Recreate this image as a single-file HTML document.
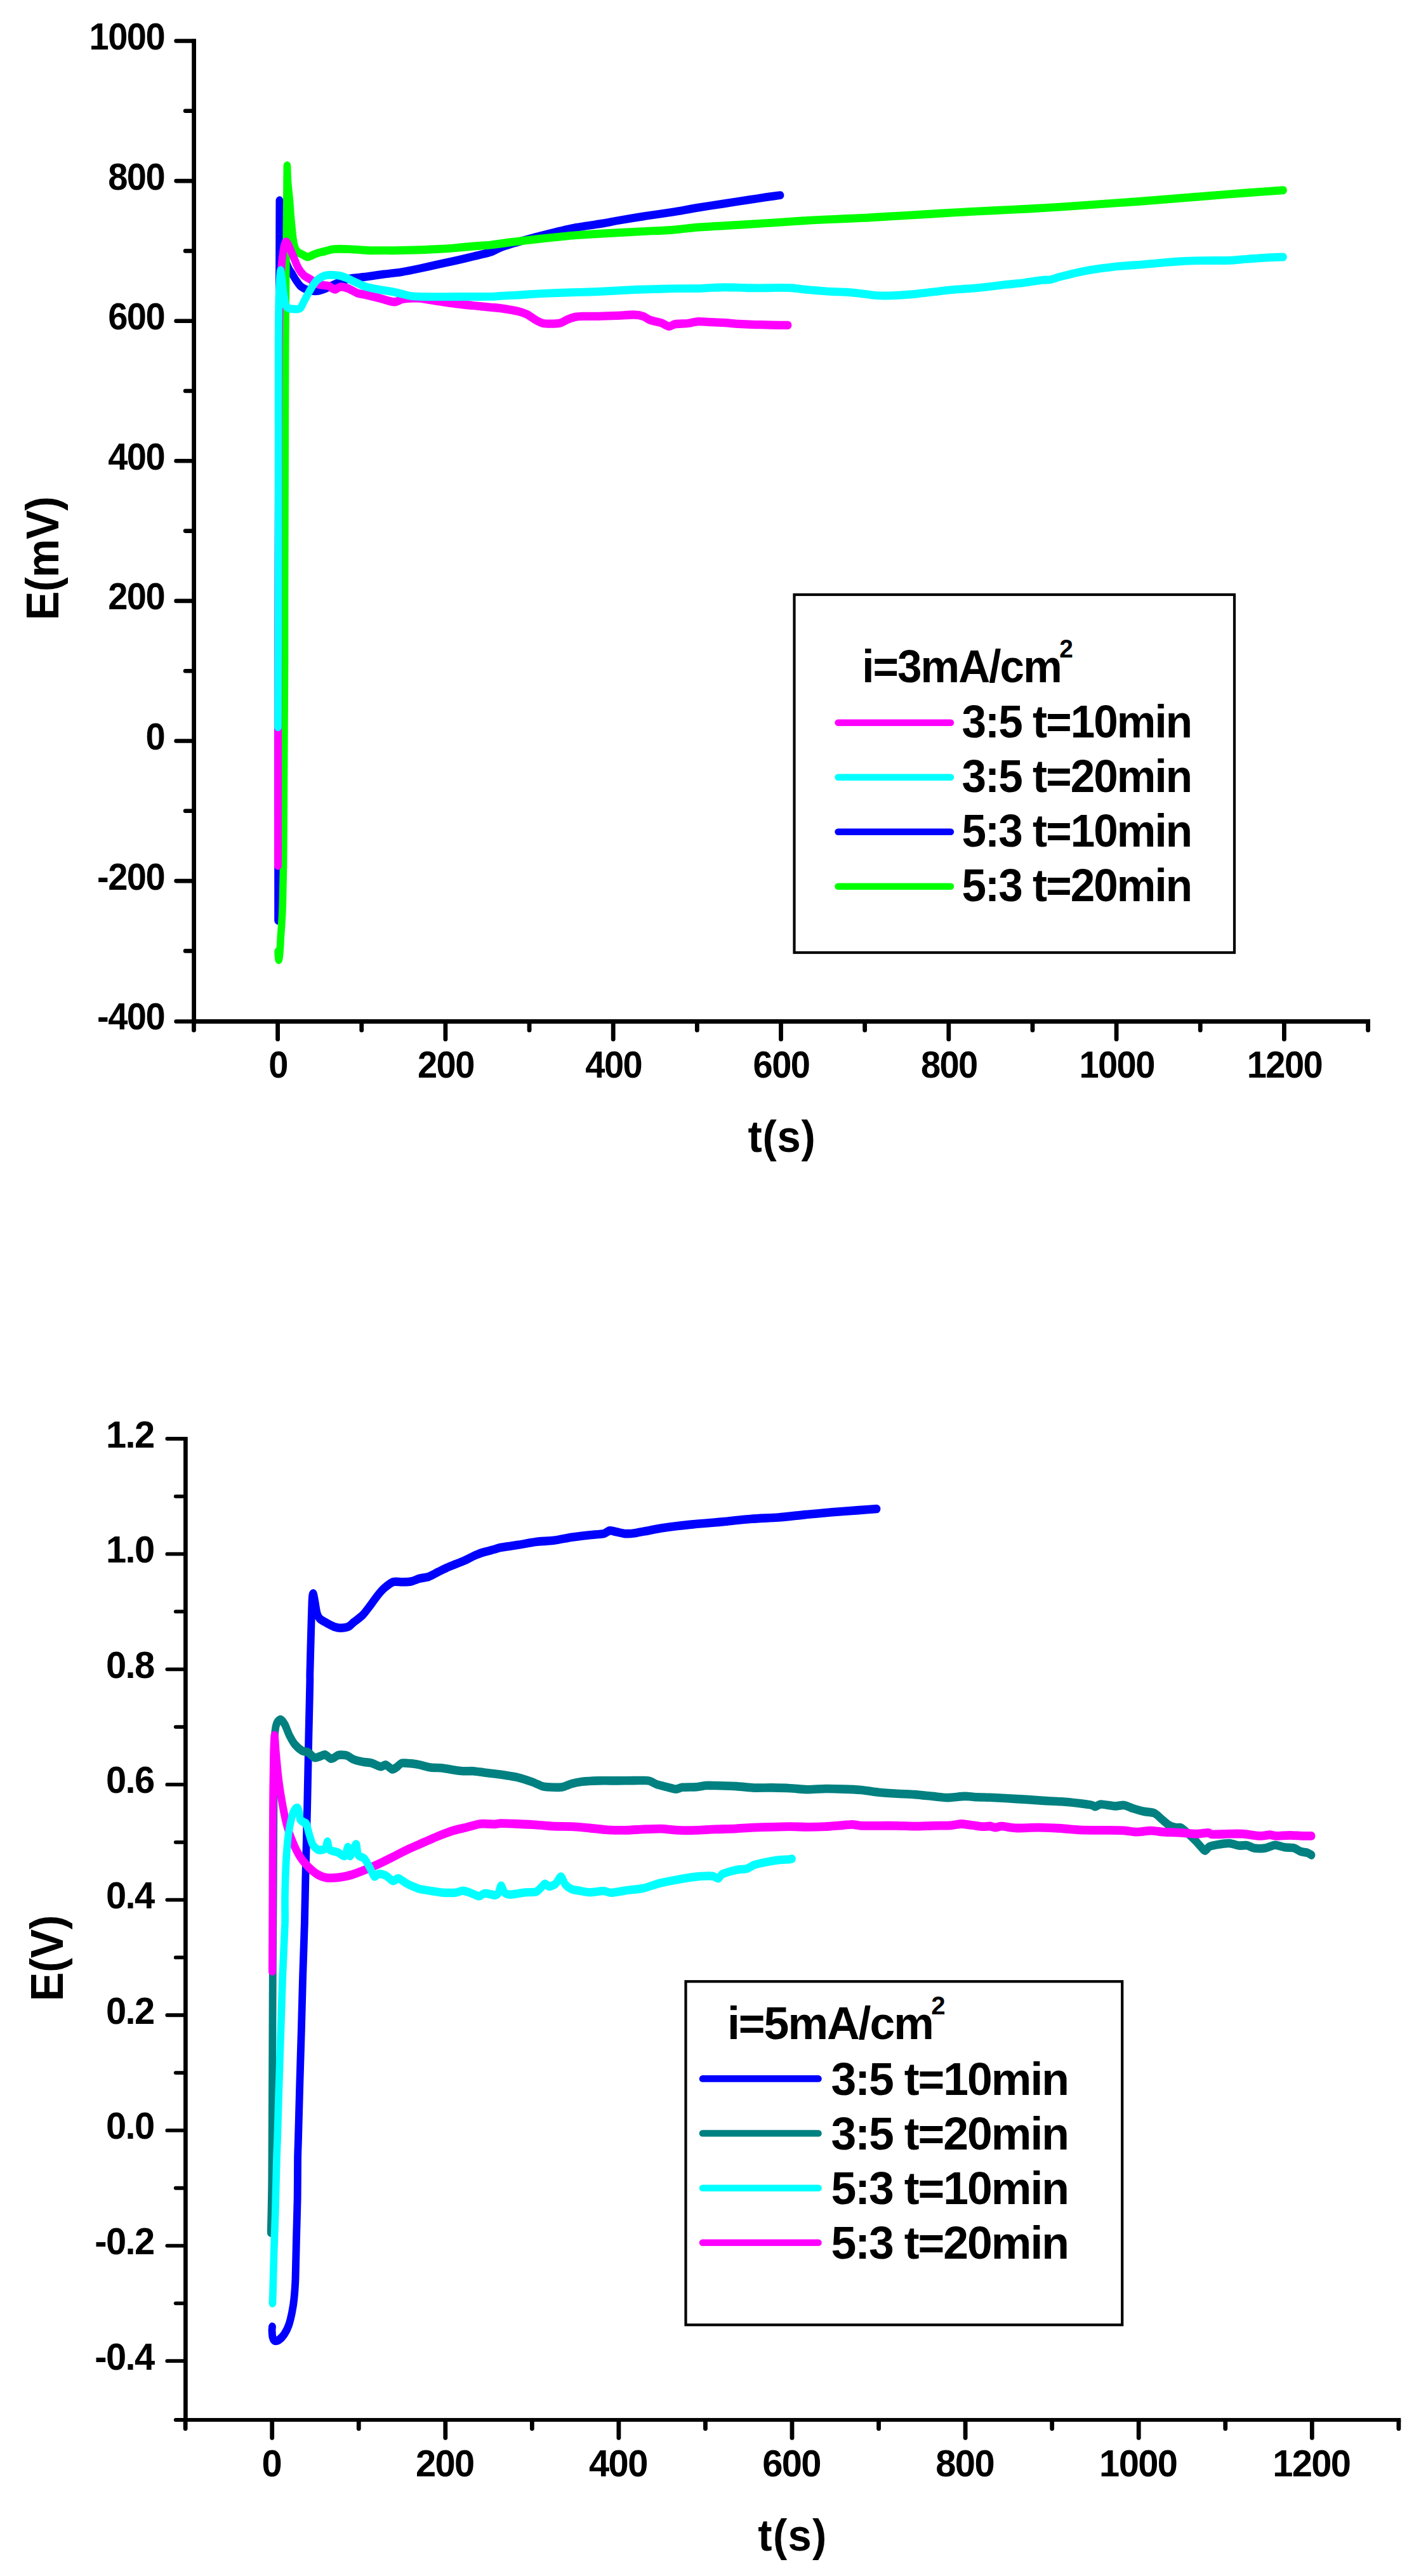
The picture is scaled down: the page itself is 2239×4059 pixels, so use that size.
<!DOCTYPE html>
<html lang="en">
<head>
<meta charset="utf-8">
<title>Chronopotentiometric curves</title>
<style>
html,body{margin:0;padding:0;background:#fff;}
body{width:2239px;height:4059px;}
svg{display:block;}
text{font-family:"Liberation Sans",Arial,sans-serif;font-weight:bold;fill:#000;}
.sq{letter-spacing:-0.028em;}
.sq2{letter-spacing:-2.5px;}
.sq3{letter-spacing:-0.028em;}
</style>
</head>
<body>
<svg width="2239" height="4059" viewBox="0 0 2239 4059">
<rect width="2239" height="4059" fill="#fff"/>
<g id="chart1">
<g transform="scale(0.9,1)">
<path d="M486.7,1450.5C486.7,1419.2 486.6,1268.8 486.7,1200.0C486.7,1131.2 487.0,975.0 487.2,900.0C487.4,825.0 487.9,662.5 488.1,600.0C488.3,537.5 488.7,435.4 488.9,400.0C489.0,370.9 489.0,325.1 489.2,317.0C489.4,310.7 490.1,328.7 490.6,335.0C491.1,342.2 492.4,366.6 493.3,375.0C494.2,383.4 496.7,396.9 497.8,402.0C498.9,407.0 501.1,413.1 502.2,416.0C503.3,418.9 505.6,423.1 506.7,425.0C507.8,426.9 509.7,429.0 511.1,431.0C512.5,433.0 516.0,438.6 517.8,441.0C519.6,443.4 523.6,448.8 525.6,450.5C527.5,452.2 531.4,454.1 533.3,455.0C535.3,455.9 539.2,457.2 541.1,457.6C543.1,458.1 546.9,458.5 548.9,458.6C550.8,458.7 554.2,458.8 556.7,458.4C559.2,457.9 565.6,456.2 568.9,455.0C572.2,453.8 578.2,451.0 583.3,449.0C588.5,447.0 602.8,440.9 610.0,439.3C617.2,437.7 633.3,436.9 641.1,436.0C648.9,435.1 664.4,432.9 672.2,432.0C680.0,431.1 695.5,429.7 703.3,428.6C711.2,427.5 727.1,424.5 735.0,423.0C742.9,421.5 758.8,418.2 766.7,416.7C774.5,415.1 790.0,412.2 797.8,410.6C805.6,409.0 821.1,405.7 828.9,404.0C836.7,402.3 853.9,398.8 860.0,397.0C866.1,395.2 871.4,391.6 877.8,389.5C884.6,387.3 904.3,382.0 914.8,379.3C925.3,376.6 950.0,370.7 961.8,368.1C973.5,365.5 996.9,360.4 1008.7,358.4C1020.4,356.4 1046.8,353.3 1055.6,352.0C1063.8,350.8 1070.7,349.3 1078.9,348.0C1087.7,346.6 1113.6,342.7 1126.0,341.0C1138.4,339.3 1166.1,335.8 1177.8,334.1C1189.5,332.4 1208.7,329.1 1219.8,327.5C1230.9,325.9 1255.0,322.6 1266.7,321.0C1278.4,319.4 1303.9,315.8 1313.3,314.5C1322.8,313.2 1335.6,311.4 1342.2,310.5C1348.8,309.6 1363.2,308.0 1366.2,307.6" fill="none" stroke="#0000ff" stroke-width="12.9" stroke-linecap="round" stroke-linejoin="round"/>
<path d="M486.8,1499.0C486.8,1500.0 487.1,1505.3 487.2,1507.0C487.4,1508.7 487.9,1512.6 488.1,1512.5C488.4,1512.4 488.9,1508.3 489.2,1506.0C489.5,1503.7 490.2,1498.0 490.4,1494.4C490.7,1490.8 491.2,1481.4 491.4,1477.0C491.7,1472.6 492.4,1464.5 492.8,1459.4C493.1,1454.3 494.0,1443.3 494.3,1436.0C494.7,1428.7 495.1,1412.6 495.3,1401.0C495.6,1389.4 496.3,1363.3 496.4,1343.0C496.7,1313.4 497.3,1201.9 497.6,1164.0C497.8,1126.1 498.3,1066.8 498.4,1040.0C498.6,1013.2 498.4,981.5 498.4,950.0C498.5,907.5 499.0,751.2 499.1,700.0C499.3,648.8 499.4,577.5 499.7,540.0C499.9,502.5 500.8,430.0 501.1,400.0C501.4,370.0 502.0,317.4 502.2,300.0C502.4,286.3 502.5,262.7 502.7,261.0C502.9,259.3 503.3,279.6 503.9,286.3C504.4,293.0 506.3,307.4 507.0,314.4C507.7,321.4 508.7,335.6 509.3,342.6C510.0,349.6 511.8,365.6 512.4,370.7C513.0,375.0 513.8,380.4 514.4,383.0C515.0,385.6 516.5,390.2 517.2,391.9C518.0,393.6 519.7,395.6 520.6,396.5C521.4,397.4 523.1,398.2 524.3,398.9C525.6,399.5 528.9,400.9 530.7,401.7C532.4,402.5 536.5,404.9 538.4,405.0C540.4,405.1 544.1,403.2 546.2,402.4C548.4,401.6 552.8,399.7 555.6,398.9C558.3,398.1 564.6,396.9 568.1,396.1C571.6,395.3 578.3,393.0 583.8,392.6C589.2,392.2 605.4,392.4 611.9,392.6C618.3,392.8 630.9,393.7 635.4,394.0C639.8,394.3 643.5,394.6 647.9,394.7C653.2,394.8 672.8,394.6 677.8,394.6C681.4,394.6 684.5,394.9 688.1,394.8C695.3,394.7 725.2,394.0 735.0,393.7C744.8,393.4 758.4,392.9 766.2,392.5C774.0,392.1 789.7,391.2 797.6,390.6C805.4,390.0 821.0,388.6 828.8,388.0C836.6,387.4 852.3,386.6 860.1,385.8C867.9,385.1 881.3,383.1 891.1,382.0C900.9,380.9 926.6,378.2 938.3,377.0C950.1,375.8 976.4,373.4 985.2,372.6C993.4,371.9 1000.4,371.1 1008.7,370.6C1017.5,370.0 1040.9,368.8 1055.6,368.0C1070.2,367.2 1110.7,365.3 1126.0,364.6C1141.3,363.9 1166.1,363.0 1177.8,362.2C1189.5,361.4 1208.7,359.0 1219.8,358.2C1230.9,357.4 1255.0,356.3 1266.7,355.7C1278.4,355.1 1301.9,353.8 1313.6,353.2C1325.3,352.5 1348.8,351.3 1360.5,350.6C1372.2,349.9 1395.7,348.3 1407.4,347.7C1419.2,347.0 1441.4,346.1 1454.4,345.6C1467.3,345.0 1499.0,344.0 1511.1,343.4C1523.3,342.9 1538.6,342.0 1551.4,341.3C1564.3,340.7 1598.4,338.8 1614.0,338.0C1629.6,337.1 1660.9,335.4 1676.6,334.6C1692.2,333.8 1723.5,332.5 1739.1,331.8C1754.7,331.1 1786.0,329.7 1801.7,329.0C1817.3,328.2 1848.6,326.5 1864.2,325.6C1879.8,324.7 1911.1,322.6 1926.8,321.6C1942.4,320.6 1973.7,318.7 1989.3,317.7C2005.0,316.6 2036.2,314.3 2051.9,313.2C2067.5,312.1 2098.8,309.8 2114.4,308.7C2130.1,307.6 2160.5,305.3 2177.0,304.2C2193.5,303.1 2238.0,300.3 2246.7,299.7" fill="none" stroke="#00ff00" stroke-width="12.9" stroke-linecap="round" stroke-linejoin="round"/>
<path d="M486.7,1364.0C486.7,1331.0 486.9,1170.5 487.0,1100.0C487.1,1029.5 487.4,867.5 487.6,800.0C487.7,732.5 487.8,601.2 488.1,560.0C488.3,528.5 489.4,487.5 490.0,470.0C490.6,452.5 492.1,429.0 492.8,420.0C493.4,412.3 494.9,402.4 495.6,398.0C496.2,393.6 497.6,387.1 498.3,385.0C498.9,383.4 500.3,381.0 501.1,381.0C501.9,381.0 503.5,383.5 504.4,385.0C505.3,386.5 507.3,390.8 508.3,393.0C509.4,395.2 511.3,399.3 512.9,402.7C514.6,406.4 519.9,418.5 522.2,422.4C524.6,426.3 528.9,431.3 531.7,433.6C534.4,435.9 541.1,438.9 544.2,440.7C547.3,442.5 553.9,446.6 556.7,447.7C559.5,448.8 564.3,449.1 566.7,449.5C569.0,449.9 573.6,449.9 575.4,450.5C577.2,451.1 579.7,453.3 581.1,454.0C582.5,454.7 585.2,456.2 586.4,456.2C587.7,456.2 589.8,454.5 591.1,454.0C592.5,453.5 595.0,451.8 597.3,451.9C599.7,452.0 606.4,453.5 609.9,454.7C613.4,455.9 621.7,460.6 625.6,461.8C629.5,463.0 636.0,463.6 641.1,464.6C646.2,465.7 661.4,469.0 666.2,470.2C671.1,471.4 676.9,473.3 680.0,474.0C683.1,474.7 689.0,475.9 691.2,475.9C693.4,475.9 696.2,474.5 697.8,474.0C699.3,473.5 701.5,472.1 703.7,471.6C706.0,471.1 712.8,470.2 716.7,470.0C720.6,469.8 728.8,469.6 735.0,470.2C741.2,470.8 758.4,473.4 766.2,474.5C774.0,475.6 789.7,477.8 797.6,478.7C805.4,479.6 821.0,480.8 828.8,481.5C836.6,482.2 854.2,483.8 860.1,484.3C865.6,484.8 870.2,484.9 875.7,485.6C881.5,486.4 901.1,489.2 907.0,490.4C912.6,491.6 918.8,493.6 922.7,495.4C926.6,497.1 934.7,502.6 938.2,504.4C941.7,506.2 946.9,508.8 950.8,509.5C954.7,510.2 965.6,510.2 969.6,510.1C973.5,510.0 979.0,509.6 982.1,508.7C985.2,507.8 991.4,504.2 994.6,503.0C997.7,501.8 1004.0,500.0 1007.1,499.4C1010.2,498.8 1015.2,498.4 1019.6,498.3C1024.6,498.2 1040.3,498.4 1047.8,498.3C1055.2,498.2 1071.2,497.7 1079.0,497.4C1086.8,497.1 1104.5,495.9 1110.3,496.0C1115.8,496.1 1122.4,497.2 1125.9,498.3C1129.4,499.4 1134.5,503.1 1138.4,504.4C1142.4,505.7 1153.1,507.5 1157.2,508.7C1161.3,509.9 1168.2,514.1 1171.3,514.3C1174.5,514.5 1178.2,511.2 1182.2,510.6C1186.3,510.0 1199.1,510.0 1204.1,509.5C1209.1,509.0 1217.0,506.8 1222.2,506.6C1227.4,506.4 1239.8,507.3 1245.7,507.6C1251.5,507.9 1263.2,508.4 1269.1,508.7C1275.0,509.0 1286.7,510.1 1292.6,510.4C1298.4,510.7 1310.1,511.2 1316.0,511.4C1321.9,511.6 1333.7,511.7 1339.6,511.8C1345.4,511.9 1358.0,512.2 1363.0,512.3C1368.0,512.4 1377.4,512.3 1379.4,512.3" fill="none" stroke="#ff00ff" stroke-width="13.3" stroke-linecap="round" stroke-linejoin="round"/>
<path d="M486.7,1145.7C486.7,1127.5 487.0,1043.2 487.1,1000.0C487.2,956.8 487.4,857.5 487.4,800.0C487.5,742.5 487.3,581.2 487.4,540.0C487.5,515.5 487.9,484.2 488.3,470.0C488.8,455.8 490.3,430.2 491.0,426.5C491.7,422.8 493.2,435.6 493.9,440.0C494.6,444.4 495.8,456.8 496.7,462.0C497.5,467.2 499.2,478.5 500.4,481.5C501.5,484.0 504.7,485.3 506.7,486.0C508.6,486.7 513.7,487.1 516.0,487.1C518.3,487.1 523.7,486.7 525.4,485.7C527.2,484.7 528.8,480.9 530.0,479.0C531.2,477.1 533.4,472.6 534.8,470.2C536.2,467.8 539.5,462.5 541.1,460.0C542.7,457.5 545.7,452.8 547.3,450.5C549.0,448.2 552.5,443.8 554.4,442.0C556.4,440.2 561.1,437.5 563.0,436.5C564.9,435.5 568.1,434.4 570.0,434.0C571.9,433.6 576.3,433.2 578.6,433.1C580.8,433.1 585.4,433.4 587.8,433.6C590.1,433.8 595.0,434.4 597.3,435.0C599.7,435.6 604.3,437.1 606.7,438.0C609.0,438.9 613.5,441.0 616.1,442.1C618.8,443.2 624.7,445.8 627.8,447.0C630.9,448.2 637.9,451.0 641.1,451.9C644.3,452.8 650.2,453.9 653.3,454.5C656.5,455.1 661.7,456.0 666.2,456.7C671.0,457.4 685.0,459.2 691.2,460.4C697.5,461.6 710.8,465.1 716.2,466.0C721.7,466.9 728.4,467.2 735.0,467.4C742.7,467.6 766.9,467.6 777.8,467.6C788.7,467.6 811.9,467.4 822.2,467.4C832.5,467.4 853.3,467.5 860.0,467.4C865.5,467.3 870.2,466.7 875.7,466.4C881.5,466.1 899.2,465.4 907.0,465.0C914.8,464.6 930.4,463.5 938.2,463.1C946.0,462.7 961.7,462.0 969.6,461.7C977.4,461.4 993.0,461.0 1000.8,460.8C1008.6,460.6 1024.3,460.2 1032.1,460.0C1039.9,459.8 1055.5,459.2 1063.3,458.8C1071.2,458.4 1086.8,457.6 1094.7,457.2C1102.5,456.8 1118.1,456.2 1125.9,456.0C1133.7,455.8 1149.4,455.4 1157.2,455.2C1165.0,455.0 1180.3,454.7 1188.4,454.6C1196.6,454.5 1215.1,454.8 1222.2,454.6C1229.4,454.5 1239.8,453.6 1245.7,453.4C1251.5,453.2 1263.2,452.7 1269.1,452.7C1275.0,452.7 1286.7,453.0 1292.6,453.1C1298.4,453.2 1310.1,453.7 1316.0,453.8C1321.9,453.9 1333.7,453.9 1339.6,453.8C1345.4,453.8 1357.1,453.4 1363.0,453.4C1368.9,453.4 1380.6,453.4 1386.4,453.8C1392.3,454.2 1404.0,455.8 1409.9,456.3C1415.8,456.8 1427.5,457.6 1433.3,458.0C1439.2,458.4 1450.9,459.2 1456.8,459.5C1462.6,459.8 1474.4,460.0 1480.2,460.3C1486.1,460.6 1497.9,461.6 1503.7,462.2C1509.5,462.8 1521.8,464.3 1526.7,464.8C1531.5,465.3 1538.4,465.8 1542.3,465.9C1546.2,466.0 1553.9,466.0 1557.8,465.9C1561.7,465.8 1568.1,465.6 1573.7,465.3C1579.6,464.9 1597.1,463.7 1604.9,463.0C1612.7,462.3 1628.4,460.5 1636.2,459.7C1644.0,458.9 1659.6,457.2 1667.4,456.6C1675.3,456.0 1691.0,455.2 1698.8,454.6C1706.6,454.0 1722.2,452.6 1730.0,451.8C1737.8,451.0 1753.5,449.2 1761.3,448.4C1769.2,447.6 1784.7,446.5 1792.6,445.6C1800.4,444.7 1818.0,442.0 1823.9,441.4C1829.3,440.8 1835.7,441.1 1839.6,440.5C1843.5,439.9 1849.6,437.6 1855.1,436.3C1861.0,434.9 1878.6,430.8 1886.4,429.3C1894.3,427.8 1911.8,425.1 1917.7,424.2C1923.1,423.4 1928.3,422.8 1933.3,422.2C1938.4,421.6 1950.2,420.2 1958.0,419.6C1965.8,419.0 1987.3,417.7 1995.9,417.1C2004.5,416.5 2018.8,415.2 2026.7,414.6C2034.5,414.0 2050.6,412.8 2058.4,412.3C2066.3,411.8 2081.7,411.1 2089.7,410.9C2097.6,410.7 2114.4,410.6 2122.2,410.5C2130.0,410.4 2144.6,410.6 2152.2,410.3C2159.9,410.0 2175.7,408.6 2183.6,408.1C2191.4,407.6 2206.9,406.5 2214.8,406.1C2222.7,405.7 2242.7,405.1 2246.7,405.0" fill="none" stroke="#00ffff" stroke-width="12.9" stroke-linecap="round" stroke-linejoin="round"/>
</g>
<g fill="#000">
<rect x="302.20" y="61.20" width="6.80" height="1551.80"/>
<rect x="302.20" y="1606.00" width="1856.75" height="7.00"/>
<rect x="274.30" y="1606.20" width="32.90" height="6.60" rx="3.3"/>
<rect x="288.80" y="1495.10" width="18.40" height="6.60" rx="3.3"/>
<rect x="274.30" y="1384.80" width="32.90" height="6.60" rx="3.3"/>
<rect x="288.80" y="1274.50" width="18.40" height="6.60" rx="3.3"/>
<rect x="274.30" y="1164.20" width="32.90" height="6.60" rx="3.3"/>
<rect x="288.80" y="1053.90" width="18.40" height="6.60" rx="3.3"/>
<rect x="274.30" y="943.60" width="32.90" height="6.60" rx="3.3"/>
<rect x="288.80" y="833.30" width="18.40" height="6.60" rx="3.3"/>
<rect x="274.30" y="723.00" width="32.90" height="6.60" rx="3.3"/>
<rect x="288.80" y="612.70" width="18.40" height="6.60" rx="3.3"/>
<rect x="274.30" y="502.40" width="32.90" height="6.60" rx="3.3"/>
<rect x="288.80" y="392.10" width="18.40" height="6.60" rx="3.3"/>
<rect x="274.30" y="281.80" width="32.90" height="6.60" rx="3.3"/>
<rect x="288.80" y="171.50" width="18.40" height="6.60" rx="3.3"/>
<rect x="274.30" y="61.20" width="32.90" height="6.60" rx="3.3"/>
<rect x="302.05" y="1608.00" width="6.80" height="18.60" rx="3.4"/>
<rect x="434.20" y="1608.00" width="6.80" height="32.80" rx="3.4"/>
<rect x="566.35" y="1608.00" width="6.80" height="18.60" rx="3.4"/>
<rect x="698.50" y="1608.00" width="6.80" height="32.80" rx="3.4"/>
<rect x="830.65" y="1608.00" width="6.80" height="18.60" rx="3.4"/>
<rect x="962.80" y="1608.00" width="6.80" height="32.80" rx="3.4"/>
<rect x="1094.95" y="1608.00" width="6.80" height="18.60" rx="3.4"/>
<rect x="1227.10" y="1608.00" width="6.80" height="32.80" rx="3.4"/>
<rect x="1359.25" y="1608.00" width="6.80" height="18.60" rx="3.4"/>
<rect x="1491.40" y="1608.00" width="6.80" height="32.80" rx="3.4"/>
<rect x="1623.55" y="1608.00" width="6.80" height="18.60" rx="3.4"/>
<rect x="1755.70" y="1608.00" width="6.80" height="32.80" rx="3.4"/>
<rect x="1887.85" y="1608.00" width="6.80" height="18.60" rx="3.4"/>
<rect x="2020.00" y="1608.00" width="6.80" height="32.80" rx="3.4"/>
<rect x="2152.15" y="1608.00" width="6.80" height="18.60" rx="3.4"/>
</g>
<g class="tick">
<text transform="translate(259.0,1622.2) scale(0.95,1)" font-size="59" text-anchor="end" class="sq">-400</text>
<text transform="translate(259.0,1401.6) scale(0.95,1)" font-size="59" text-anchor="end" class="sq">-200</text>
<text transform="translate(259.0,1181.0) scale(0.95,1)" font-size="59" text-anchor="end" class="sq">0</text>
<text transform="translate(259.0,960.4) scale(0.95,1)" font-size="59" text-anchor="end" class="sq">200</text>
<text transform="translate(259.0,739.8) scale(0.95,1)" font-size="59" text-anchor="end" class="sq">400</text>
<text transform="translate(259.0,519.2) scale(0.95,1)" font-size="59" text-anchor="end" class="sq">600</text>
<text transform="translate(259.0,298.6) scale(0.95,1)" font-size="59" text-anchor="end" class="sq">800</text>
<text transform="translate(259.0,78.0) scale(0.95,1)" font-size="59" text-anchor="end" class="sq">1000</text>
<text transform="translate(438.1,1697.5) scale(0.95,1)" font-size="59" text-anchor="middle" class="sq">0</text>
<text transform="translate(702.4,1697.5) scale(0.95,1)" font-size="59" text-anchor="middle" class="sq">200</text>
<text transform="translate(966.7,1697.5) scale(0.95,1)" font-size="59" text-anchor="middle" class="sq">400</text>
<text transform="translate(1231.0,1697.5) scale(0.95,1)" font-size="59" text-anchor="middle" class="sq">600</text>
<text transform="translate(1495.3,1697.5) scale(0.95,1)" font-size="59" text-anchor="middle" class="sq">800</text>
<text transform="translate(1759.6,1697.5) scale(0.95,1)" font-size="59" text-anchor="middle" class="sq">1000</text>
<text transform="translate(2023.9,1697.5) scale(0.95,1)" font-size="59" text-anchor="middle" class="sq">1200</text>
</g>
<text transform="translate(1232.0,1815.0) scale(0.95,1)" font-size="70.5" text-anchor="middle" style="letter-spacing:0.8px">t(s)</text>
<text transform="translate(92.3,880) rotate(-90) scale(0.95,1)" font-size="72" text-anchor="middle" style="letter-spacing:-0.6px">E(mV)</text>
<rect x="1251.5" y="937" width="693.5" height="564" fill="#fff" stroke="#000" stroke-width="4.2"/>
<text transform="translate(1358.2,1075.3) scale(0.95,1)" font-size="72.9" text-anchor="start" class="sq3">i=3mA/cm<tspan dy="-38.9" dx="-2.6" font-size="41">2</tspan></text>
<line x1="1320.5" x2="1498" y1="1138.7" y2="1138.7" stroke="#ff00ff" stroke-width="10.4" stroke-linecap="round"/>
<text transform="translate(1515.5,1161.5) scale(0.95,1)" font-size="72.9" text-anchor="start" class="sq3">3:5 t=10min</text>
<line x1="1320.5" x2="1498" y1="1224.7" y2="1224.7" stroke="#00ffff" stroke-width="10.4" stroke-linecap="round"/>
<text transform="translate(1515.5,1247.5) scale(0.95,1)" font-size="72.9" text-anchor="start" class="sq3">3:5 t=20min</text>
<line x1="1320.5" x2="1498" y1="1310.7" y2="1310.7" stroke="#0000ff" stroke-width="10.4" stroke-linecap="round"/>
<text transform="translate(1515.5,1333.5) scale(0.95,1)" font-size="72.9" text-anchor="start" class="sq3">5:3 t=10min</text>
<line x1="1320.5" x2="1498" y1="1396.7" y2="1396.7" stroke="#00ff00" stroke-width="10.4" stroke-linecap="round"/>
<text transform="translate(1515.5,1419.5) scale(0.95,1)" font-size="72.9" text-anchor="start" class="sq3">5:3 t=20min</text>
</g>
<g id="chart2">
<g transform="scale(0.87,1)">
<path d="M493.1,3666.4C493.0,3667.2 492.5,3670.3 492.6,3672.3C492.7,3674.4 493.2,3680.9 493.8,3682.9C494.4,3684.9 496.1,3687.6 497.4,3688.2C498.8,3688.7 502.6,3688.3 504.7,3687.1C506.9,3685.9 512.2,3681.6 514.4,3678.7C516.7,3675.8 521.1,3668.4 522.9,3663.9C524.7,3659.4 527.8,3648.1 529.0,3642.8C530.2,3637.5 531.9,3628.3 532.6,3621.7C533.4,3615.1 534.6,3601.1 535.1,3590.0C535.6,3578.1 536.3,3542.5 536.8,3526.7C537.2,3510.8 538.4,3479.2 538.7,3463.3C539.0,3447.5 539.0,3411.9 539.2,3400.0C539.4,3388.7 540.0,3379.1 540.3,3367.8C540.8,3353.2 542.2,3304.5 542.9,3283.3C543.6,3262.2 545.1,3220.0 545.8,3198.9C546.5,3177.8 547.7,3135.6 548.4,3114.4C549.1,3093.3 551.0,3049.4 551.6,3030.0C552.2,3010.6 552.7,2982.5 553.3,2959.6C553.9,2936.8 555.8,2875.2 556.5,2847.0C557.2,2818.9 558.5,2759.1 559.1,2734.4C559.7,2709.8 561.1,2662.1 561.3,2650.0C561.4,2645.7 561.2,2642.1 561.3,2637.8C561.6,2629.2 562.6,2592.0 563.0,2581.5C563.3,2571.6 563.7,2560.4 563.9,2553.3C564.2,2546.3 564.7,2530.3 564.9,2525.2C565.1,2520.9 565.6,2514.6 565.9,2512.8C566.0,2512.0 567.1,2510.6 567.5,2511.1C567.9,2511.6 568.7,2514.8 569.1,2516.7C569.6,2518.7 570.4,2523.4 571.1,2526.6C571.7,2529.8 573.3,2539.1 574.3,2542.1C575.3,2545.1 576.9,2548.6 579.1,2550.5C581.4,2552.5 588.9,2556.0 592.1,2557.6C595.3,2559.1 602.0,2562.2 605.0,2563.2C608.1,2564.1 613.1,2565.2 616.4,2565.2C619.6,2565.2 627.9,2564.3 630.9,2563.2C633.9,2562.1 637.4,2558.4 640.6,2556.2C643.9,2553.9 653.2,2548.1 656.8,2544.9C660.4,2541.7 666.5,2534.5 669.7,2530.8C673.0,2527.1 679.4,2518.9 682.7,2515.3C685.9,2511.8 692.0,2505.5 695.6,2502.7C699.3,2499.9 707.8,2494.1 711.8,2492.8C715.8,2491.6 723.9,2492.9 728.0,2492.8C732.0,2492.7 740.1,2492.7 744.2,2492.0C748.2,2491.3 756.3,2488.1 760.3,2487.2C764.4,2486.2 772.5,2485.6 776.5,2484.4C780.6,2483.1 788.6,2479.1 792.7,2477.3C796.7,2475.6 804.8,2471.9 808.9,2470.3C812.9,2468.7 821.0,2466.1 825.0,2464.7C829.1,2463.3 837.2,2460.6 841.2,2459.0C845.3,2457.5 853.4,2453.6 857.4,2452.0C861.4,2450.4 868.7,2447.7 873.6,2446.4C878.5,2445.0 892.5,2442.0 896.6,2441.0C899.8,2440.2 902.5,2439.0 905.9,2438.5C911.1,2437.7 930.2,2435.4 938.3,2434.3C946.4,2433.2 962.5,2430.4 970.6,2429.5C978.7,2428.6 994.9,2428.2 1003.0,2427.3C1011.1,2426.4 1027.2,2423.3 1035.3,2422.2C1043.4,2421.1 1060.4,2419.5 1067.7,2418.8C1075.0,2418.1 1089.0,2417.5 1093.6,2416.6C1097.5,2415.8 1101.1,2412.2 1103.9,2411.8C1106.7,2411.5 1112.6,2413.2 1116.2,2413.8C1119.8,2414.4 1128.0,2416.4 1132.4,2416.6C1136.9,2416.8 1145.1,2416.3 1151.8,2415.4C1159.9,2414.3 1187.4,2409.5 1197.1,2408.1C1206.8,2406.7 1221.3,2405.0 1229.4,2404.2C1237.5,2403.3 1253.7,2402.0 1261.8,2401.3C1269.9,2400.7 1287.8,2399.5 1294.1,2399.0C1300.5,2398.5 1306.3,2398.0 1312.9,2397.4C1321.3,2396.7 1349.2,2394.1 1361.4,2393.3C1373.5,2392.5 1397.9,2391.8 1410.0,2391.0C1422.1,2390.2 1446.4,2387.6 1458.5,2386.6C1470.6,2385.6 1494.9,2383.7 1507.0,2382.8C1519.1,2381.9 1545.4,2380.3 1555.5,2379.6C1565.6,2378.9 1583.9,2377.8 1587.9,2377.5" fill="none" stroke="#0000ff" stroke-width="13.6" stroke-linecap="round" stroke-linejoin="round"/>
<path d="M490.6,3518.0C490.8,3507.0 492.2,3460.8 492.4,3430.0C492.8,3379.0 493.7,3165.3 494.0,3110.0C494.3,3067.2 494.8,3024.2 495.0,2987.8C495.3,2951.4 495.7,2849.9 496.0,2818.9C496.2,2791.3 496.9,2752.0 497.3,2740.1C497.5,2734.1 498.3,2726.5 498.9,2723.2C499.6,2719.8 501.2,2715.0 502.5,2713.3C503.7,2711.6 506.9,2709.1 508.6,2709.7C510.3,2710.2 514.1,2714.5 516.1,2717.6C518.0,2720.7 521.9,2730.6 524.1,2734.4C526.4,2738.3 531.0,2745.5 533.8,2748.5C536.7,2751.5 543.8,2756.8 546.8,2758.4C549.8,2760.0 555.3,2759.8 558.1,2761.2C560.9,2762.6 566.8,2768.8 569.4,2769.6C572.1,2770.4 576.7,2768.3 579.1,2767.7C581.6,2767.1 586.4,2764.4 588.9,2764.8C591.3,2765.3 596.5,2770.4 598.6,2771.0C600.6,2771.6 603.2,2770.3 605.0,2769.6C606.8,2768.9 610.3,2765.9 613.1,2765.4C615.9,2765.0 624.2,2765.1 627.7,2766.0C631.1,2766.9 637.0,2771.2 640.6,2772.4C644.3,2773.7 652.8,2775.4 656.8,2776.1C660.8,2776.8 668.9,2777.1 673.0,2778.1C677.0,2779.0 685.9,2783.4 689.2,2783.7C692.4,2784.1 696.2,2780.4 698.9,2780.9C701.5,2781.4 707.8,2787.5 710.2,2787.9C712.6,2788.4 716.0,2785.8 718.3,2784.6C720.5,2783.3 724.3,2778.8 728.0,2778.1C731.6,2777.4 743.3,2778.6 747.4,2778.9C751.4,2779.3 756.3,2780.1 760.3,2780.9C764.4,2781.7 774.9,2784.5 779.7,2785.1C784.6,2785.7 794.3,2785.3 799.2,2785.7C804.0,2786.1 813.7,2787.9 818.6,2788.5C823.4,2789.1 833.1,2790.5 838.0,2790.7C842.8,2791.0 852.5,2790.5 857.4,2790.7C862.3,2791.0 871.9,2792.5 876.8,2793.0C881.7,2793.5 892.9,2794.6 896.6,2795.0C899.8,2795.3 902.6,2795.5 905.9,2796.0C911.1,2796.7 931.0,2799.3 938.3,2800.8C945.6,2802.3 958.5,2806.1 964.1,2807.9C969.8,2809.7 978.7,2813.8 983.6,2814.9C988.4,2816.0 998.5,2816.2 1003.0,2816.3C1007.4,2816.4 1015.2,2816.4 1019.2,2815.7C1023.2,2815.0 1030.8,2811.8 1035.3,2810.7C1039.7,2809.6 1048.6,2807.9 1054.7,2807.3C1060.8,2806.7 1076.2,2806.1 1083.9,2805.9C1091.6,2805.7 1108.1,2805.9 1116.2,2805.9C1124.3,2805.9 1141.3,2805.6 1148.6,2805.6C1155.9,2805.6 1169.2,2805.1 1174.5,2805.9C1179.7,2806.7 1186.3,2810.8 1190.7,2812.1C1195.1,2813.4 1205.8,2815.4 1210.0,2816.3C1214.2,2817.2 1221.4,2819.1 1224.6,2819.1C1227.8,2819.1 1231.9,2816.7 1236.0,2816.3C1240.6,2815.9 1256.6,2816.0 1261.8,2815.7C1267.1,2815.3 1274.0,2813.8 1278.0,2813.5C1282.1,2813.2 1288.5,2813.4 1294.1,2813.5C1301.0,2813.6 1324.4,2814.2 1333.3,2814.6C1342.3,2815.0 1357.5,2816.8 1365.6,2817.1C1373.7,2817.4 1390.0,2816.8 1398.0,2816.9C1406.1,2817.0 1422.3,2817.3 1430.3,2817.7C1438.4,2818.0 1454.7,2819.6 1462.8,2819.7C1470.8,2819.8 1487.0,2818.6 1495.1,2818.5C1503.1,2818.4 1519.4,2818.8 1527.5,2819.1C1535.6,2819.3 1551.7,2819.9 1559.8,2820.5C1567.9,2821.1 1584.1,2823.5 1592.2,2824.2C1600.3,2824.9 1616.4,2825.8 1624.5,2826.2C1632.6,2826.6 1648.8,2827.1 1656.9,2827.6C1665.0,2828.1 1681.9,2829.8 1689.2,2830.4C1696.5,2831.0 1707.9,2832.6 1715.2,2832.6C1722.5,2832.6 1740.6,2830.5 1747.5,2830.4C1754.3,2830.3 1764.4,2831.6 1770.1,2831.8C1775.8,2832.0 1786.2,2832.1 1793.1,2832.3C1800.0,2832.6 1817.3,2833.4 1825.4,2833.8C1833.5,2834.2 1849.7,2835.0 1857.8,2835.4C1865.9,2835.8 1882.0,2837.0 1890.1,2837.4C1898.2,2837.8 1914.4,2838.3 1922.5,2838.8C1930.6,2839.3 1948.0,2840.9 1954.8,2841.6C1961.7,2842.3 1973.8,2843.8 1977.5,2844.4C1979.9,2844.8 1982.0,2846.9 1984.0,2846.7C1986.0,2846.5 1990.1,2843.1 1993.7,2843.0C1998.1,2842.9 2014.3,2845.7 2019.5,2845.9C2024.8,2846.1 2031.7,2844.0 2035.7,2844.4C2039.8,2844.8 2047.5,2848.3 2052.0,2849.5C2056.4,2850.7 2066.5,2853.4 2071.4,2854.3C2076.2,2855.2 2086.6,2855.3 2090.8,2857.0C2095.1,2858.7 2102.1,2865.2 2105.4,2867.6C2108.7,2870.0 2114.4,2874.5 2117.5,2876.0C2120.5,2877.5 2126.9,2879.3 2129.7,2879.8C2132.4,2880.3 2136.3,2878.8 2139.3,2880.2C2142.3,2881.6 2150.6,2888.2 2153.9,2890.8C2157.2,2893.4 2163.2,2898.8 2166.0,2901.3C2168.7,2903.8 2173.7,2909.0 2175.7,2910.8C2177.8,2912.7 2180.7,2916.2 2182.5,2916.1C2184.4,2916.0 2187.6,2911.0 2190.3,2909.8C2193.1,2908.6 2200.3,2907.3 2204.8,2906.6C2209.4,2905.9 2221.8,2904.3 2226.7,2904.5C2231.5,2904.7 2239.7,2907.7 2243.7,2908.1C2247.6,2908.5 2254.6,2907.2 2258.3,2907.7C2261.9,2908.2 2268.5,2911.8 2272.8,2912.3C2277.0,2912.8 2287.6,2912.5 2292.2,2911.9C2296.7,2911.3 2304.9,2907.3 2309.2,2907.2C2313.4,2907.1 2322.0,2910.2 2326.2,2910.8C2330.5,2911.4 2339.6,2911.1 2343.2,2911.9C2346.9,2912.7 2352.3,2916.3 2355.3,2917.2C2358.3,2918.1 2365.0,2918.6 2367.5,2919.3C2370.0,2920.0 2374.2,2922.5 2375.2,2922.9" fill="none" stroke="#008080" stroke-width="13.6" stroke-linecap="round" stroke-linejoin="round"/>
<path d="M493.1,3106.0C493.2,3091.2 493.6,3020.2 493.7,2987.8C493.9,2955.4 494.1,2875.2 494.4,2847.0C494.6,2818.9 495.3,2776.7 495.7,2762.6C495.9,2752.7 496.8,2734.4 497.3,2734.4C497.8,2734.4 498.9,2753.8 499.9,2762.6C500.8,2771.4 503.3,2795.0 504.7,2804.8C506.1,2814.7 509.4,2832.6 511.2,2841.4C513.0,2850.2 516.9,2867.5 519.3,2875.2C521.7,2882.9 527.6,2897.0 530.6,2903.3C533.6,2909.7 539.9,2920.9 543.6,2925.9C547.2,2930.8 555.7,2939.2 559.7,2942.8C563.8,2946.3 571.9,2952.0 575.9,2954.0C580.0,2956.0 587.2,2958.3 592.1,2958.8C596.9,2959.3 609.1,2958.8 614.7,2958.2C620.4,2957.6 631.3,2955.6 637.4,2954.0C643.5,2952.4 656.8,2947.9 663.3,2945.6C669.7,2943.3 682.7,2938.4 689.2,2935.7C695.6,2933.1 708.6,2927.3 715.0,2924.5C721.5,2921.6 734.5,2915.8 740.9,2913.2C747.4,2910.6 760.3,2905.8 766.8,2903.3C773.3,2900.9 786.2,2895.8 792.7,2893.5C799.2,2891.2 812.1,2886.8 818.6,2885.0C825.0,2883.3 838.0,2880.8 844.5,2879.4C850.9,2878.0 863.8,2874.4 870.3,2873.8C876.9,2873.2 892.1,2874.4 896.6,2874.3C899.8,2874.3 902.6,2873.2 905.9,2873.2C911.1,2873.2 930.2,2873.7 938.3,2874.0C946.4,2874.3 962.5,2874.9 970.6,2875.4C978.7,2875.9 994.9,2877.3 1003.0,2877.7C1011.1,2878.0 1027.2,2877.8 1035.3,2878.2C1043.4,2878.5 1059.6,2879.9 1067.7,2880.5C1075.8,2881.1 1091.9,2882.9 1100.0,2883.3C1108.1,2883.7 1124.3,2884.0 1132.4,2883.9C1140.5,2883.8 1156.6,2882.7 1164.7,2882.4C1172.8,2882.1 1189.0,2881.4 1197.1,2881.6C1205.2,2881.8 1221.3,2883.6 1229.4,2883.9C1237.5,2884.2 1253.7,2884.1 1261.8,2883.9C1269.9,2883.7 1285.2,2882.7 1294.1,2882.4C1303.1,2882.1 1324.4,2881.7 1333.3,2881.3C1342.3,2881.0 1357.5,2879.9 1365.6,2879.6C1373.7,2879.3 1390.0,2879.0 1398.0,2878.8C1406.1,2878.6 1422.3,2878.2 1430.3,2878.2C1438.4,2878.2 1454.7,2878.8 1462.8,2878.8C1470.8,2878.8 1487.0,2878.5 1495.1,2878.2C1503.1,2877.8 1521.4,2876.4 1527.5,2876.0C1533.1,2875.6 1539.6,2874.7 1543.7,2874.8C1547.7,2874.9 1554.1,2876.6 1559.8,2876.8C1565.8,2877.1 1584.1,2876.8 1592.2,2876.8C1600.3,2876.8 1616.4,2876.7 1624.5,2876.8C1632.6,2876.9 1648.8,2877.7 1656.9,2877.7C1665.0,2877.7 1681.1,2877.0 1689.2,2876.8C1697.3,2876.6 1715.1,2876.7 1721.6,2876.3C1728.1,2876.0 1736.2,2874.0 1741.0,2874.0C1745.9,2874.0 1755.6,2875.5 1760.5,2876.0C1765.3,2876.5 1775.8,2878.0 1779.9,2878.2C1784.0,2878.4 1790.2,2877.3 1793.1,2877.5C1796.0,2877.7 1800.1,2879.6 1802.8,2879.6C1805.4,2879.6 1810.1,2877.6 1814.1,2877.7C1819.0,2877.8 1833.3,2880.3 1841.6,2880.5C1849.9,2880.7 1870.3,2879.5 1880.5,2879.6C1890.6,2879.7 1913.2,2880.5 1922.5,2881.0C1931.8,2881.5 1944.7,2882.9 1954.8,2883.3C1964.9,2883.7 1993.3,2883.8 2003.4,2883.9C2013.6,2884.0 2028.9,2884.1 2035.7,2884.4C2042.6,2884.8 2052.3,2886.7 2058.4,2886.7C2064.5,2886.7 2078.6,2884.6 2084.5,2884.6C2090.4,2884.6 2099.2,2886.2 2105.4,2886.6C2111.7,2887.0 2126.9,2887.2 2134.5,2887.6C2142.1,2888.0 2159.3,2889.7 2166.0,2889.7C2172.6,2889.7 2184.2,2887.7 2187.8,2887.8C2190.5,2887.9 2192.4,2890.3 2195.2,2890.4C2200.0,2890.6 2219.7,2889.8 2226.7,2889.7C2233.6,2889.6 2243.9,2889.3 2250.9,2889.7C2257.9,2890.1 2276.5,2892.7 2282.5,2892.9C2288.5,2893.1 2295.9,2891.2 2299.5,2891.2C2303.2,2891.2 2307.3,2892.8 2311.6,2892.9C2316.1,2893.0 2329.8,2891.8 2335.9,2891.8C2341.9,2891.8 2355.2,2892.8 2360.1,2892.9C2365.0,2893.0 2373.3,2892.9 2375.2,2892.9" fill="none" stroke="#ff00ff" stroke-width="13.8" stroke-linecap="round" stroke-linejoin="round"/>
<path d="M493.6,3629.1C493.7,3626.8 494.1,3617.4 494.3,3611.1C494.6,3601.0 495.7,3563.6 496.2,3547.8C496.8,3531.9 498.1,3502.9 498.7,3484.4C499.3,3466.0 500.6,3414.6 501.1,3400.0C501.5,3388.7 502.0,3379.1 502.5,3367.8C503.0,3353.2 504.6,3304.5 505.4,3283.3C506.1,3262.2 507.8,3220.0 508.6,3198.9C509.4,3177.8 510.9,3135.6 511.8,3114.4C512.8,3093.3 515.5,3045.8 516.1,3030.0C516.5,3015.2 515.8,3000.1 516.1,2987.8C516.3,2975.5 517.5,2943.8 518.3,2931.5C519.1,2919.2 521.2,2898.1 522.5,2889.3C523.9,2880.5 527.6,2865.9 529.0,2861.1C530.1,2857.4 532.6,2852.9 533.8,2851.3C535.0,2849.7 537.7,2847.9 538.7,2848.5C539.7,2849.0 541.3,2853.2 541.9,2855.5C542.5,2857.8 542.6,2864.8 543.6,2866.7C544.5,2868.7 548.0,2870.1 549.4,2871.0C550.8,2871.9 553.8,2871.9 554.9,2873.8C556.2,2876.1 558.3,2885.2 559.7,2889.3C561.1,2893.3 564.2,2903.0 566.2,2906.2C568.2,2909.3 573.1,2913.7 575.9,2914.6C578.7,2915.5 586.7,2914.8 588.9,2913.2C591.0,2911.6 592.0,2901.8 593.1,2901.9C594.1,2902.1 594.6,2912.5 596.9,2914.6C599.2,2916.7 608.1,2917.6 611.5,2918.8C614.9,2920.1 622.1,2925.5 624.4,2924.5C626.7,2923.4 628.7,2910.4 629.9,2910.4C631.2,2910.4 632.8,2924.3 634.1,2924.5C635.5,2924.6 639.2,2914.1 640.6,2911.8C642.0,2909.6 644.5,2904.8 645.5,2906.2C646.5,2907.6 646.9,2920.2 648.7,2923.0C650.5,2925.9 657.4,2926.2 660.0,2928.7C662.7,2931.1 667.5,2939.2 669.7,2942.8C672.0,2946.3 675.8,2955.6 677.8,2956.8C679.9,2958.1 683.3,2952.8 685.9,2952.6C688.5,2952.4 695.6,2954.0 698.9,2955.4C702.1,2956.8 709.0,2963.3 711.8,2963.9C714.6,2964.4 718.7,2959.3 721.5,2959.6C724.3,2960.0 731.2,2965.1 734.5,2966.7C737.7,2968.3 744.2,2971.1 747.4,2972.3C750.6,2973.5 756.3,2975.7 760.3,2976.5C764.4,2977.4 774.5,2978.6 779.7,2979.3C785.0,2980.0 796.7,2981.8 802.4,2982.2C808.1,2982.5 820.6,2982.5 825.0,2982.2C829.5,2981.8 834.8,2979.3 838.0,2979.3C841.2,2979.3 847.3,2981.1 850.9,2982.2C854.6,2983.2 863.9,2987.6 867.1,2987.8C870.3,2988.0 874.0,2983.9 876.8,2983.6C879.6,2983.2 887.3,2984.6 889.8,2985.0C892.2,2985.3 894.9,2986.7 896.6,2986.4C898.2,2986.1 901.3,2984.7 902.6,2982.8C904.0,2980.9 906.2,2971.2 907.6,2971.1C909.0,2971.0 911.8,2980.6 914.0,2982.4C916.2,2984.2 921.2,2985.3 925.3,2985.2C929.9,2985.1 945.6,2982.3 951.3,2981.8C956.9,2981.3 966.9,2982.0 970.6,2981.0C974.2,2980.0 978.3,2975.5 980.3,2973.9C982.4,2972.3 985.0,2968.5 986.8,2968.3C988.6,2968.1 992.5,2972.5 994.9,2972.5C997.4,2972.5 1003.6,2970.2 1006.2,2968.3C1008.8,2966.4 1013.8,2956.8 1016.0,2957.0C1018.2,2957.2 1021.6,2967.2 1024.0,2969.7C1026.4,2972.2 1032.3,2975.5 1035.3,2976.7C1038.3,2977.9 1044.2,2978.4 1048.3,2979.0C1052.3,2979.6 1062.0,2981.7 1067.7,2981.8C1073.4,2981.9 1088.7,2979.5 1093.6,2979.6C1098.2,2979.7 1101.9,2982.5 1106.6,2982.4C1111.4,2982.3 1125.1,2979.9 1132.4,2979.0C1139.7,2978.1 1158.6,2976.3 1164.7,2975.3C1170.5,2974.4 1176.9,2972.2 1180.9,2971.1C1185.0,2970.0 1191.4,2968.1 1197.1,2966.9C1203.2,2965.7 1221.3,2962.5 1229.4,2961.3C1237.5,2960.1 1254.2,2957.6 1261.8,2957.0C1269.5,2956.4 1286.1,2955.8 1290.9,2956.2C1294.6,2956.5 1298.5,2960.3 1300.7,2959.9C1302.9,2959.5 1305.3,2954.2 1308.7,2952.8C1312.8,2951.1 1327.8,2947.6 1333.3,2946.5C1338.8,2945.4 1348.7,2945.4 1352.8,2944.4C1356.8,2943.4 1361.6,2939.9 1365.6,2938.7C1369.7,2937.5 1379.8,2935.4 1385.1,2934.5C1390.3,2933.6 1402.0,2931.7 1407.7,2931.1C1413.4,2930.5 1427.0,2930.0 1430.3,2929.7C1431.8,2929.6 1434.0,2929.1 1434.5,2929.0" fill="none" stroke="#00ffff" stroke-width="13.4" stroke-linecap="round" stroke-linejoin="round"/>
</g>
<g fill="#000">
<rect x="289.05" y="2264.10" width="6.70" height="1551.85"/>
<rect x="289.05" y="3810.05" width="1918.20" height="5.90"/>
<rect x="273.85" y="3810.10" width="20.20" height="5.80" rx="2.9"/>
<rect x="260.45" y="3717.30" width="33.60" height="5.80" rx="2.9"/>
<rect x="273.85" y="3626.47" width="20.20" height="5.80" rx="2.9"/>
<rect x="260.45" y="3535.65" width="33.60" height="5.80" rx="2.9"/>
<rect x="273.85" y="3444.83" width="20.20" height="5.80" rx="2.9"/>
<rect x="260.45" y="3354.00" width="33.60" height="5.80" rx="2.9"/>
<rect x="273.85" y="3263.17" width="20.20" height="5.80" rx="2.9"/>
<rect x="260.45" y="3172.35" width="33.60" height="5.80" rx="2.9"/>
<rect x="273.85" y="3081.53" width="20.20" height="5.80" rx="2.9"/>
<rect x="260.45" y="2990.70" width="33.60" height="5.80" rx="2.9"/>
<rect x="273.85" y="2899.88" width="20.20" height="5.80" rx="2.9"/>
<rect x="260.45" y="2809.05" width="33.60" height="5.80" rx="2.9"/>
<rect x="273.85" y="2718.22" width="20.20" height="5.80" rx="2.9"/>
<rect x="260.45" y="2627.40" width="33.60" height="5.80" rx="2.9"/>
<rect x="273.85" y="2536.57" width="20.20" height="5.80" rx="2.9"/>
<rect x="260.45" y="2445.75" width="33.60" height="5.80" rx="2.9"/>
<rect x="273.85" y="2354.92" width="20.20" height="5.80" rx="2.9"/>
<rect x="260.45" y="2264.10" width="33.60" height="5.80" rx="2.9"/>
<rect x="288.75" y="3810.95" width="6.80" height="19.20" rx="3.4"/>
<rect x="425.30" y="3810.95" width="6.80" height="33.80" rx="3.4"/>
<rect x="561.85" y="3810.95" width="6.80" height="19.20" rx="3.4"/>
<rect x="698.40" y="3810.95" width="6.80" height="33.80" rx="3.4"/>
<rect x="834.95" y="3810.95" width="6.80" height="19.20" rx="3.4"/>
<rect x="971.50" y="3810.95" width="6.80" height="33.80" rx="3.4"/>
<rect x="1108.05" y="3810.95" width="6.80" height="19.20" rx="3.4"/>
<rect x="1244.60" y="3810.95" width="6.80" height="33.80" rx="3.4"/>
<rect x="1381.15" y="3810.95" width="6.80" height="19.20" rx="3.4"/>
<rect x="1517.70" y="3810.95" width="6.80" height="33.80" rx="3.4"/>
<rect x="1654.25" y="3810.95" width="6.80" height="19.20" rx="3.4"/>
<rect x="1790.80" y="3810.95" width="6.80" height="33.80" rx="3.4"/>
<rect x="1927.35" y="3810.95" width="6.80" height="19.20" rx="3.4"/>
<rect x="2063.90" y="3810.95" width="6.80" height="33.80" rx="3.4"/>
<rect x="2200.45" y="3810.95" width="6.80" height="19.20" rx="3.4"/>
</g>
<g class="tick">
<text transform="translate(242.5,3733.7) scale(0.981,1)" font-size="59" text-anchor="end" class="sq">-0.4</text>
<text transform="translate(242.5,3552.1) scale(0.981,1)" font-size="59" text-anchor="end" class="sq">-0.2</text>
<text transform="translate(242.5,3370.4) scale(0.981,1)" font-size="59" text-anchor="end" class="sq">0.0</text>
<text transform="translate(242.5,3188.8) scale(0.981,1)" font-size="59" text-anchor="end" class="sq">0.2</text>
<text transform="translate(242.5,3007.1) scale(0.981,1)" font-size="59" text-anchor="end" class="sq">0.4</text>
<text transform="translate(242.5,2825.4) scale(0.981,1)" font-size="59" text-anchor="end" class="sq">0.6</text>
<text transform="translate(242.5,2643.8) scale(0.981,1)" font-size="59" text-anchor="end" class="sq">0.8</text>
<text transform="translate(242.5,2462.2) scale(0.981,1)" font-size="59" text-anchor="end" class="sq">1.0</text>
<text transform="translate(242.5,2280.5) scale(0.981,1)" font-size="59" text-anchor="end" class="sq">1.2</text>
<text transform="translate(427.7,3901.5) scale(0.981,1)" font-size="59" text-anchor="middle" class="sq">0</text>
<text transform="translate(700.8,3901.5) scale(0.981,1)" font-size="59" text-anchor="middle" class="sq">200</text>
<text transform="translate(973.9,3901.5) scale(0.981,1)" font-size="59" text-anchor="middle" class="sq">400</text>
<text transform="translate(1247.0,3901.5) scale(0.981,1)" font-size="59" text-anchor="middle" class="sq">600</text>
<text transform="translate(1520.1,3901.5) scale(0.981,1)" font-size="59" text-anchor="middle" class="sq">800</text>
<text transform="translate(1793.2,3901.5) scale(0.981,1)" font-size="59" text-anchor="middle" class="sq">1000</text>
<text transform="translate(2066.3,3901.5) scale(0.981,1)" font-size="59" text-anchor="middle" class="sq">1200</text>
</g>
<text transform="translate(1248.9,4019.3) scale(0.95,1)" font-size="70.5" text-anchor="middle" style="letter-spacing:1.3px">t(s)</text>
<text transform="translate(99.2,3085.5) rotate(-90) scale(0.95,1)" font-size="72" text-anchor="middle" style="letter-spacing:-0.4px">E(V)</text>
<rect x="1080.5" y="3122.2" width="687.7" height="541.1" fill="#fff" stroke="#000" stroke-width="4.2"/>
<text transform="translate(1146.0,3213.0) scale(0.981,1)" font-size="72.9" text-anchor="start" class="sq3">i=5mA/cm<tspan dy="-38.9" dx="-2.6" font-size="41">2</tspan></text>
<line x1="1107" x2="1289.5" y1="3275.4" y2="3275.4" stroke="#0000ff" stroke-width="10.6" stroke-linecap="round"/>
<text transform="translate(1309.5,3300.7) scale(0.981,1)" font-size="72.9" text-anchor="start" class="sq3">3:5 t=10min</text>
<line x1="1107" x2="1289.5" y1="3361.5" y2="3361.5" stroke="#008080" stroke-width="10.6" stroke-linecap="round"/>
<text transform="translate(1309.5,3386.8) scale(0.981,1)" font-size="72.9" text-anchor="start" class="sq3">3:5 t=20min</text>
<line x1="1107" x2="1289.5" y1="3447.7" y2="3447.7" stroke="#00ffff" stroke-width="10.6" stroke-linecap="round"/>
<text transform="translate(1309.5,3473.0) scale(0.981,1)" font-size="72.9" text-anchor="start" class="sq3">5:3 t=10min</text>
<line x1="1107" x2="1289.5" y1="3533.8" y2="3533.8" stroke="#ff00ff" stroke-width="10.6" stroke-linecap="round"/>
<text transform="translate(1309.5,3559.1) scale(0.981,1)" font-size="72.9" text-anchor="start" class="sq3">5:3 t=20min</text>
</g>
</svg>
</body>
</html>
